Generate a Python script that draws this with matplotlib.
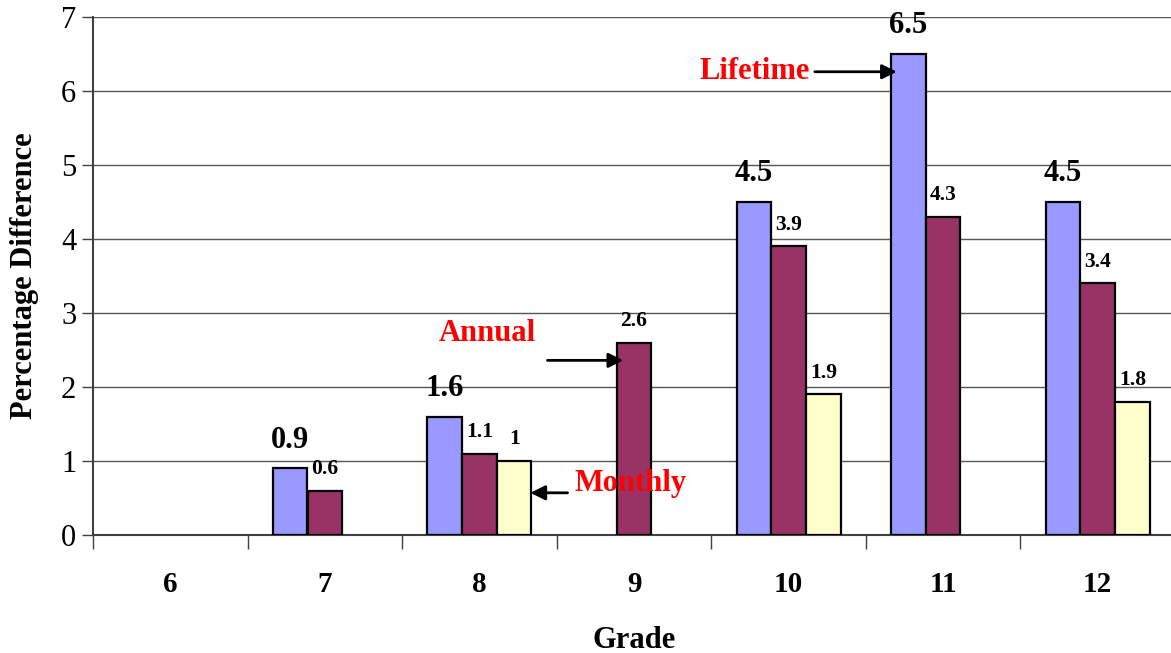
import numpy as np
import matplotlib
matplotlib.use("Agg")
import matplotlib.pyplot as plt

grades = ["6", "7", "8", "9", "10", "11", "12"]
lifetime = [np.nan, 0.9, 1.6, np.nan, 4.5, 6.5, 4.5]
annual = [np.nan, 0.6, 1.1, 2.6, 3.9, 4.3, 3.4]
monthly = [np.nan, np.nan, 1.0, np.nan, 1.9, np.nan, 1.8]
series_names = ["Lifetime", "Annual", "Monthly"]
series_colors = ["#9999FF", "#993366", "#FFFFCC"]
yticks = [0, 1, 2, 3, 4, 5, 6, 7]

plt.rcParams['font.family'] = ['Liberation Serif', 'DejaVu Serif']

fig = plt.figure(figsize=(11.71, 6.53), dpi=100)
ax = fig.add_axes([93/1171, 118/653, 1082/1171, 518/653])

x = np.arange(len(grades))
w = 0.223
offsets = [-0.225, 0.0, 0.225]
all_series = [lifetime, annual, monthly]
for s_i, (vals, col, off) in enumerate(zip(all_series, series_colors, offsets)):
    vals = np.array(vals, dtype=float)
    m = ~np.isnan(vals)
    ax.bar(x[m] + off, vals[m], width=w, color=col, edgecolor='black',
           linewidth=1.6, zorder=3)
    for xi, v in zip(x[m] + off, vals[m]):
        lab = f"{v:g}"
        if s_i == 0:
            ax.annotate(lab, (xi, v), xytext=(0, 15), textcoords='offset points',
                        ha='center', va='baseline', fontsize=22, fontweight='bold')
        else:
            ax.annotate(lab, (xi, v), xytext=(0, 12), textcoords='offset points',
                        ha='center', va='baseline', fontsize=15.5, fontweight='bold')

ax.set_xlim(-0.5, len(grades) - 0.5)
ax.set_ylim(0, 7)
ax.set_yticks(yticks)
ax.set_yticklabels([str(t) for t in yticks], fontsize=22)
ax.tick_params(axis='y', length=8, width=1, color='#404040', pad=4, direction='out')

ax.set_xticks(x)
ax.set_xticklabels(grades, fontsize=21, fontweight='bold')
ax.set_xticks(np.arange(len(grades) + 1) - 0.5, minor=True)
ax.tick_params(axis='x', which='major', length=0, pad=26)
ax.tick_params(axis='x', which='minor', length=10, width=1, color='#404040', direction='out')

ax.grid(axis='y', color='#555555', linewidth=1, zorder=0)
ax.set_axisbelow(True)
for sp in ['top', 'right']:
    ax.spines[sp].set_visible(False)
for sp in ['left', 'bottom']:
    ax.spines[sp].set_color('#404040')
    ax.spines[sp].set_linewidth(1.5)

ax.set_xlabel("Grade", fontsize=22, fontweight='bold', labelpad=20)
ax.set_ylabel("Percentage Difference", fontsize=22, fontweight='bold', labelpad=16)

arrow = dict(arrowstyle='-|>', color='black', lw=2, mutation_scale=22, shrinkA=0, shrinkB=0)
ax.annotate("", xy=(4.70, 6.26), xytext=(4.17, 6.26), arrowprops=arrow)
ax.text(3.78, 6.26, series_names[0], color='red', fontsize=22, fontweight='bold',
        ha='center', va='center')
ax.annotate("", xy=(2.93, 2.36), xytext=(2.44, 2.36), arrowprops=arrow)
ax.text(2.05, 2.72, series_names[1], color='red', fontsize=22, fontweight='bold',
        ha='center', va='center')
ax.annotate("", xy=(2.33, 0.57), xytext=(2.57, 0.57), arrowprops=arrow)
ax.text(2.98, 0.70, series_names[2], color='red', fontsize=22, fontweight='bold',
        ha='center', va='center')

fig.savefig("out.png", dpi=100)
